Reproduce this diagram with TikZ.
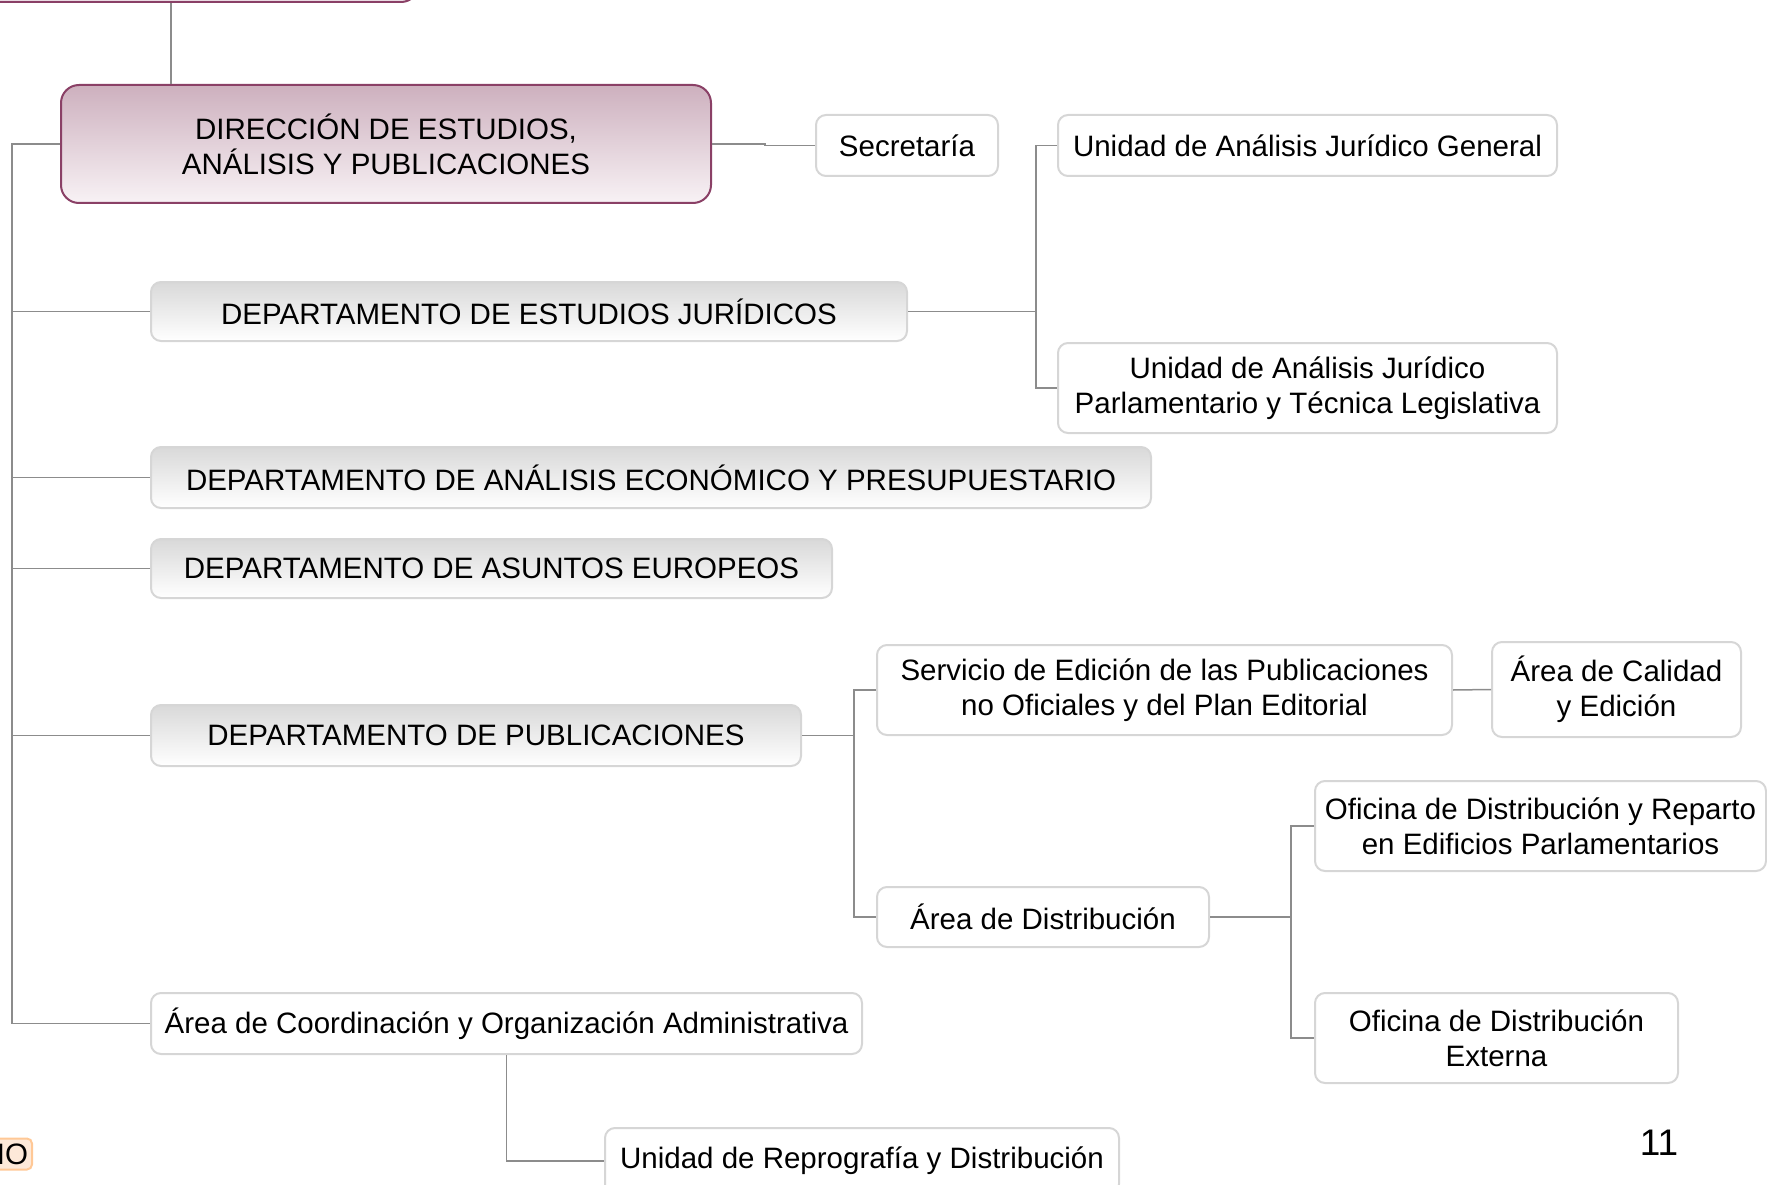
\documentclass[tikz,border=0pt]{standalone}
\usepackage{fontspec}
\setmainfont{Liberation Sans}
\usepackage{tikz}

\definecolor{mauveline}{RGB}{138,64,102}
\definecolor{mauvefill}{RGB}{205,176,190}
\definecolor{mauvelow}{RGB}{248,242,245}
\definecolor{boxline}{RGB}{214,214,214}
\definecolor{linkline}{RGB}{140,140,140}
\definecolor{peachline}{RGB}{255,200,150}
\definecolor{peachfill}{RGB}{253,233,217}

\begin{document}
\begin{tikzpicture}[x=1pt, y=-1pt,
    every node/.style={font=\fontsize{29.5}{35}\selectfont, align=center, inner sep=0pt},
    unit/.style={draw=boxline, line width=2pt, rounded corners=10pt, fill=white},
    dept/.style={unit, top color=black!15, bottom color=white},
    head/.style={draw=mauveline, line width=2pt, rounded corners=18pt, top color=mauvefill, bottom color=mauvelow},
    link/.style={draw=linkline, line width=1.5pt}]
    \useasboundingbox (0,0) rectangle (1767,1185);
    \clip (0,0) rectangle (1767,1185);

    \node[head, minimum width=496, minimum height=120] (top) at (171,-58) {};
    \node[head, minimum width=650, minimum height=118] (main) at (386,144) {DIRECCIÓN DE ESTUDIOS,\\ ANÁLISIS Y PUBLICACIONES};
    \node[unit, minimum width=182, minimum height=61] (sec) at (907,145.5) {Secretaría};
    \node[dept, minimum width=756, minimum height=59] (dej) at (529,311.5) {DEPARTAMENTO DE ESTUDIOS JURÍDICOS};
    \node[unit, minimum width=499, minimum height=61] (ujg) at (1307.5,145.5) {Unidad de Análisis Jurídico General};
    \node[unit, minimum width=499, minimum height=90] (ujp) at (1307.5,388) {Unidad de Análisis Jurídico\\ Parlamentario y Técnica Legislativa};
    \node[dept, minimum width=1000, minimum height=61] (dae) at (651,477.5) {DEPARTAMENTO DE ANÁLISIS ECONÓMICO Y PRESUPUESTARIO};
    \node[dept, minimum width=681, minimum height=59] (dase) at (491.5,568.5) {DEPARTAMENTO DE ASUNTOS EUROPEOS};
    \node[dept, minimum width=650, minimum height=61] (dpub) at (476,735.5) {DEPARTAMENTO DE PUBLICACIONES};
    \node[unit, minimum width=575, minimum height=90] (sedi) at (1164.5,690) {Servicio de Edición de las Publicaciones\\ no Oficiales y del Plan Editorial};
    \node[unit, minimum width=249, minimum height=95] (acal) at (1616.5,689.5) {Área de Calidad\\ y Edición};
    \node[unit, minimum width=332, minimum height=60] (adis) at (1043,917) {Área de Distribución};
    \node[unit, minimum width=451, minimum height=90] (odr) at (1540.5,826) {Oficina de Distribución y Reparto\\ en Edificios Parlamentarios};
    \node[unit, minimum width=363, minimum height=90] (ode) at (1496.5,1038) {Oficina de Distribución\\ Externa};
    \node[unit, minimum width=711, minimum height=61] (acoo) at (506.5,1023.5) {Área de Coordinación y Organización Administrativa};
    \node[unit, minimum width=514, minimum height=66] (urep) at (862,1161) {Unidad de Reprografía y Distribución};
    \node[draw=peachline, fill=peachfill, line width=2pt, rounded corners=5pt, anchor=east, minimum height=31, inner xsep=4pt] (tag) at (33,1154) {IO};
    \node[font=\fontsize{37}{40}\selectfont] (page) at (1659,1143) {11};

    \coordinate (spine) at (12,144);
    \draw[link] (top.south) -- (top.south |- main.north);
    \draw[link] (main.west) -- (spine) |- (acoo.west);
    \draw[link] (dej.west) -- (dej.west -| spine);
    \draw[link] (dae.west) -- (dae.west -| spine);
    \draw[link] (dase.west) -- (dase.west -| spine);
    \draw[link] (dpub.west) -- (dpub.west -| spine);
    \draw[link] (main.east) -- ++(53,0) |- (sec.west);
    \draw[link] (dej.east) -- ++(128,0) coordinate (fork1);
    \draw[link] (ujg.west) -| (fork1) |- (ujp.west);
    \draw[link] (dpub.east) -- ++(52,0) coordinate (fork2);
    \draw[link] (sedi.west) -| (fork2) |- (adis.west);
    \draw[link] (sedi.east) -- (acal.west);
    \draw[link] (adis.east) -- ++(81,0) coordinate (fork3);
    \draw[link] (odr.west) -| (fork3) |- (ode.west);
    \draw[link] (acoo.south) |- (urep.west);
\end{tikzpicture}
\end{document}
